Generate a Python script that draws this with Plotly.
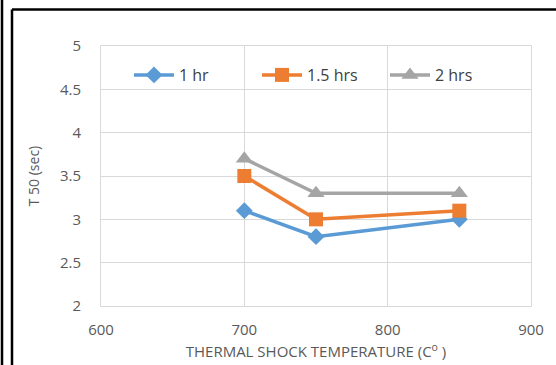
import plotly.graph_objects as go

temperatures = [700, 750, 850]
t50_1hr = [3.1, 2.8, 3.0]
t50_15hrs = [3.5, 3.0, 3.1]
t50_2hrs = [3.7, 3.3, 3.3]

y_ticks = [2, 2.5, 3, 3.5, 4, 4.5, 5]
y_tick_labels = ["2", "2.5", "3", "3.5", "4", "4.5", "5"]
x_ticks = [600, 700, 800, 900]

series = [
    ("1 hr", t50_1hr, "#5B9BD5", "diamond", 13),
    ("1.5 hrs", t50_15hrs, "#ED7D31", "square", 14),
    ("2 hrs", t50_2hrs, "#A5A5A5", "triangle-up", 15),
]

FONT = "Open Sans"
TICK_COLOR = "#595959"
GRID = "#D9D9D9"

fig = go.Figure()
for name, vals, color, symbol, size in series:
    fig.add_trace(go.Scatter(
        x=temperatures, y=vals, name=name, mode="lines+markers",
        line=dict(color=color, width=3.5),
        marker=dict(symbol=symbol, size=size, color=color, line=dict(width=0)),
    ))

W, H = 556, 365
L, R, T, B = 101, 25, 46, 59
pw, ph = W - L - R, H - T - B


def px_x(p):
    return (p - L) / pw


def px_y(p):
    return (H - B - p) / ph


# outer frame lines
frame = dict(type="line", xref="paper", yref="paper",
             line=dict(color="black", width=2.5), layer="above")
fig.add_shape(x0=px_x(2), x1=px_x(2), y0=px_y(-5), y1=px_y(375), **frame)
fig.add_shape(x0=px_x(12), x1=px_x(12), y0=px_y(9.5), y1=px_y(375), **frame)
fig.add_shape(x0=px_x(12), x1=px_x(560), y0=px_y(9.5), y1=px_y(9.5), **frame)

fig.update_layout(
    width=W, height=H,
    margin=dict(l=L, r=R, t=T, b=B, autoexpand=False),
    paper_bgcolor="white", plot_bgcolor="white",
    font=dict(family=FONT, color=TICK_COLOR),
    showlegend=True,
    legend=dict(
        orientation="h", x=px_x(129), y=px_y(58), xanchor="left", yanchor="top",
        bgcolor="rgba(0,0,0,0)", font=dict(size=16, color="#404040", family=FONT),
        itemwidth=40, traceorder="normal",
        entrywidth=73, entrywidthmode="pixels",
    ),
    xaxis=dict(
        range=[600, 900], tickvals=x_ticks,
        showgrid=True, gridcolor=GRID, gridwidth=1,
        showline=True, linecolor=GRID, mirror=True,
        zeroline=False, ticks="", ticklabelstandoff=10,
        tickfont=dict(size=15, color=TICK_COLOR),
        automargin=False,
        title=dict(text="THERMAL SHOCK TEMPERATURE (C<sup>o</sup> )",
                   font=dict(size=15, color=TICK_COLOR), standoff=8),
    ),
    yaxis=dict(
        range=[2, 5], tickvals=y_ticks, ticktext=y_tick_labels,
        showgrid=True, gridcolor=GRID, gridwidth=1,
        showline=True, linecolor=GRID, mirror=True,
        zeroline=False, ticks="", ticklabelstandoff=16,
        tickfont=dict(size=15, color=TICK_COLOR),
        automargin=False,
        title=dict(text="T 50 (sec)", font=dict(size=14, color=TICK_COLOR), standoff=17),
    ),
)

fig.write_html("out.html")
